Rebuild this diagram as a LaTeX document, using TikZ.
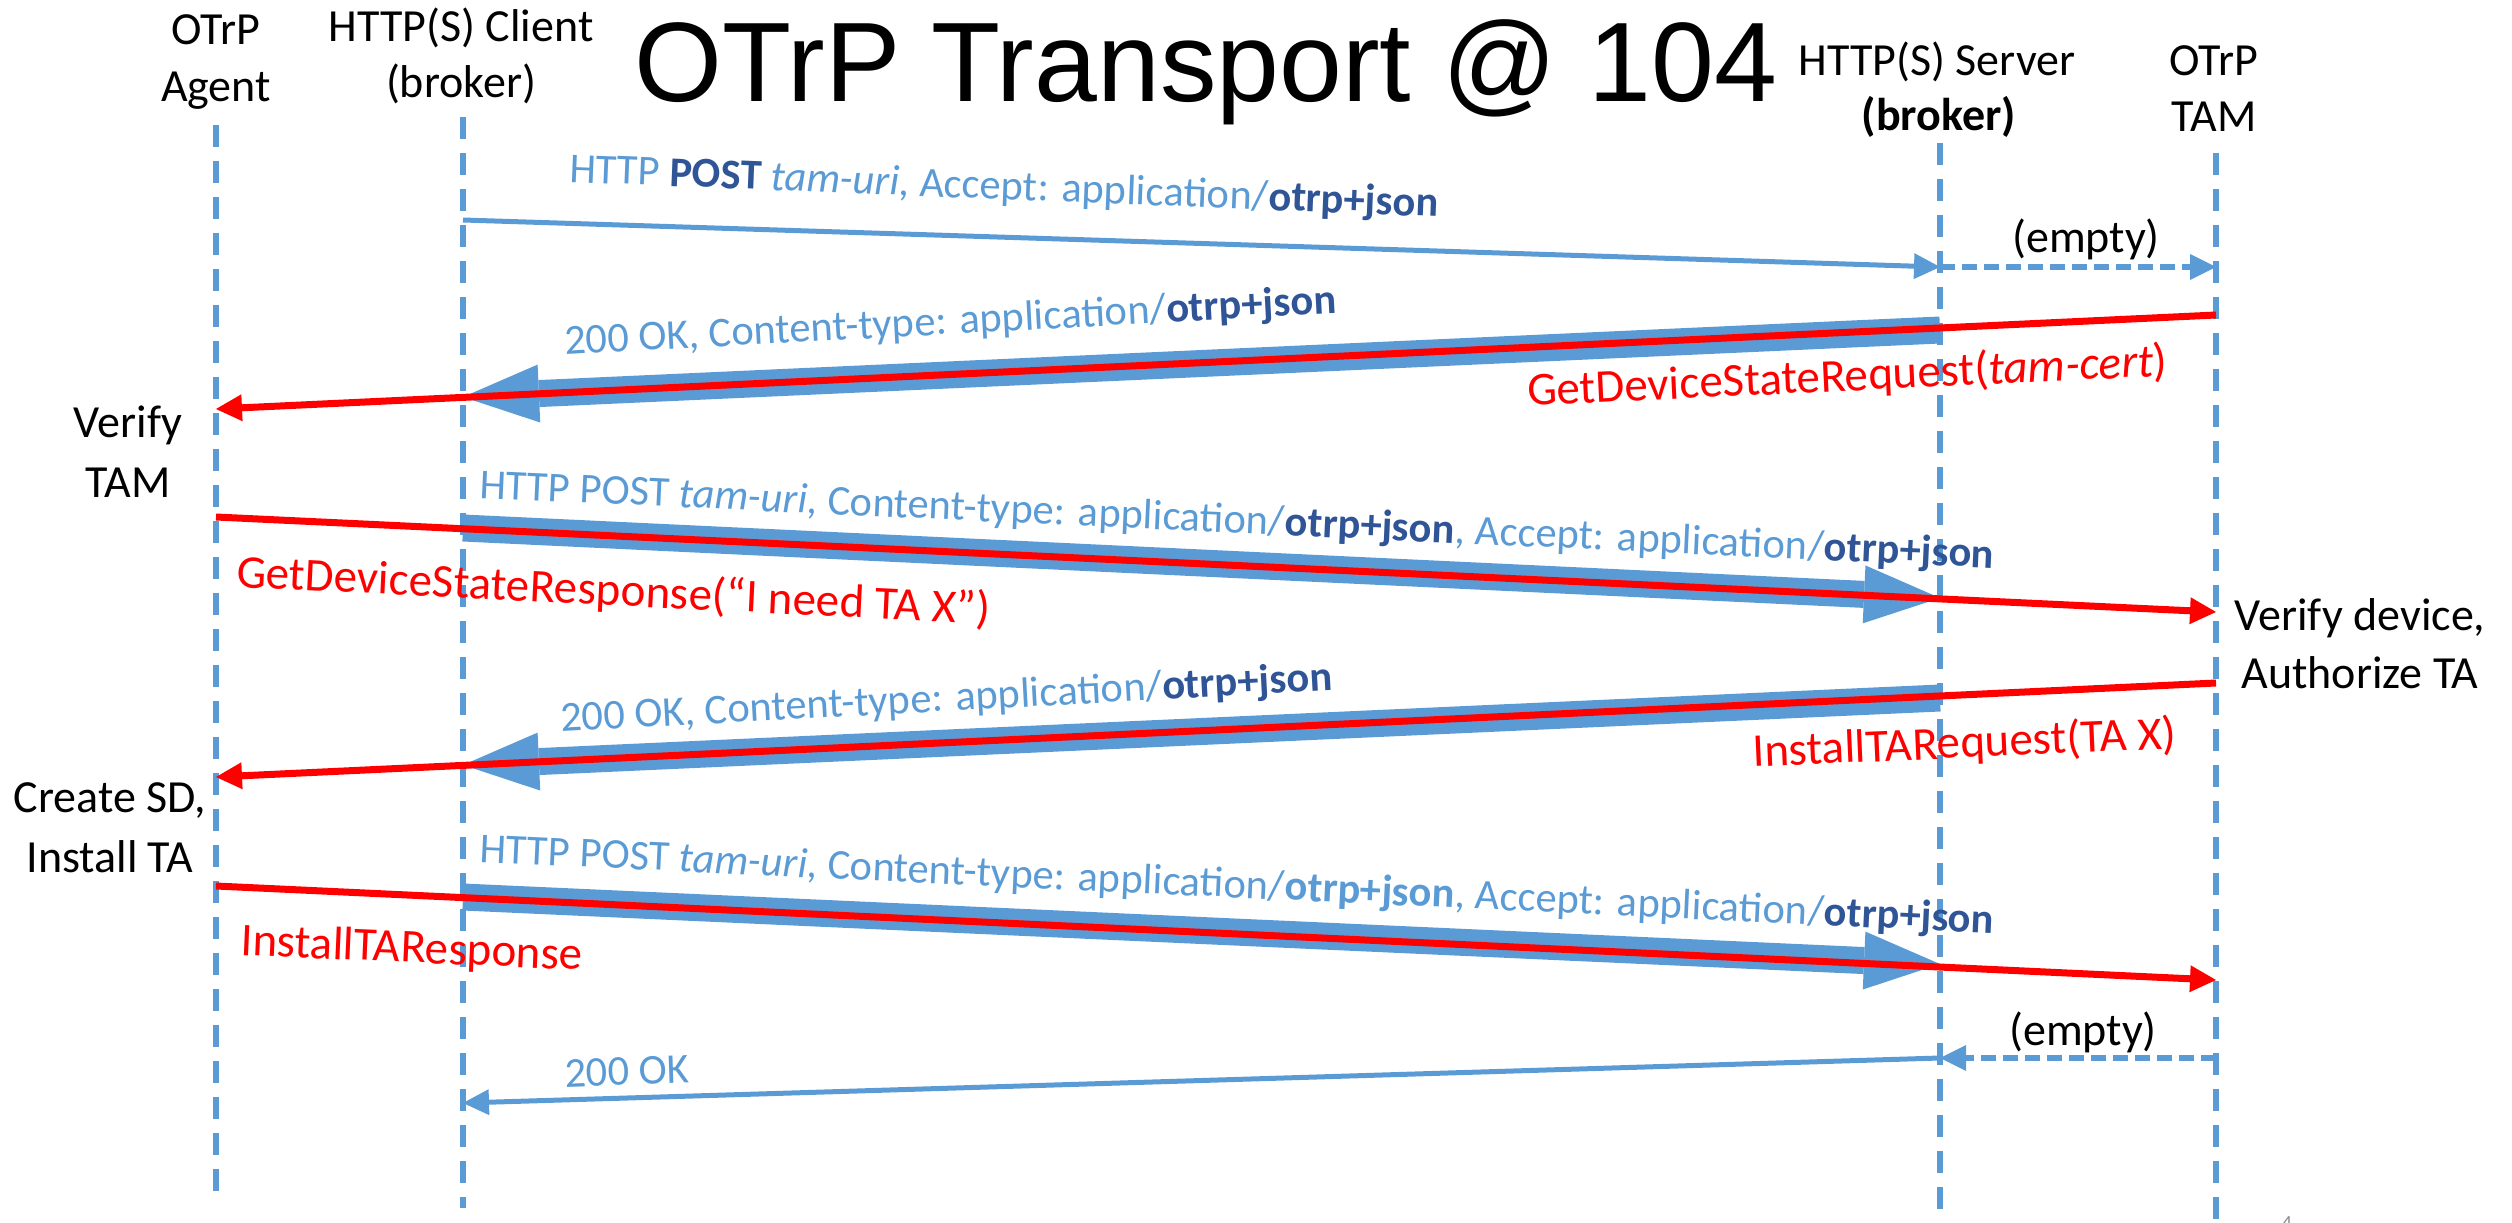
\documentclass[tikz,border=0pt]{standalone}
\usepackage{fontspec}
\setmainfont{Carlito}
\newfontfamily\titlefont{Liberation Sans}
\usetikzlibrary{arrows.meta}
\definecolor{lb}{HTML}{5B9BD5}
\definecolor{db}{HTML}{2F5597}
\definecolor{rd}{HTML}{FF0000}
\definecolor{pgnum}{HTML}{8C8C8C}
\tikzset{
  lifeline/.style={draw=lb, line width=6pt, dash pattern=on 22pt off 14pt},
  thinmsg/.style={draw=lb, line width=5pt, -{Triangle[length=26pt,width=26pt,line width=0pt]}},
  emptymsg/.style={draw=lb, line width=6pt, dash pattern=on 15pt off 7pt, -{Triangle[length=26pt,width=26pt,line width=0pt]}},
  fatmsg/.style={draw=lb, line width=27pt, -{Triangle[length=76pt,width=58pt,line width=0pt]}},
  otrpmsg/.style={draw=rd, line width=7pt, -{Triangle[length=26pt,width=27pt,line width=0pt]}},
  hdr/.style={font=\fontsize{46}{56}\selectfont, inner sep=0pt, anchor=base},
  note/.style={font=\fontsize{46}{56}\selectfont, inner sep=0pt, anchor=base},
  bluelbl/.style={text=lb, font=\fontsize{42.5}{50}\selectfont, inner sep=0pt, anchor=base west},
  redlbl/.style={text=rd, font=\fontsize{47}{56}\selectfont, inner sep=0pt, anchor=base west},
}
\begin{document}
\begin{tikzpicture}[x=1pt,y=-1pt]
\useasboundingbox (0,0) rectangle (2512,1223);

% title and headers
\node[anchor=base, inner sep=0pt, font=\titlefont\fontsize{113}{130}\selectfont] (title) at (1206,102) {OTrP Transport @ 104};
\node[hdr] (agent1) at (216,45) {OTrP};
\node[hdr] (agent2) at (216,102) {Agent};
\node[hdr] (client1) at (461,42) {HTTP(S) Client};
\node[hdr] (client2) at (461,98) {(broker)};
\node[hdr] (server1) at (1937,75) {HTTP(S) Server};
\node[hdr] (server2) at (1939,130) {\textbf{(broker)}};
\node[hdr] (tam1) at (2214,75) {OTrP};
\node[hdr] (tam2) at (2214,131) {TAM};

% lifelines
\coordinate (Atop) at (216,125); \coordinate (Abot) at (216,1198);
\coordinate (Ctop) at (463,117); \coordinate (Cbot) at (463,1208);
\coordinate (Stop) at (1940,143); \coordinate (Sbot) at (1940,1223);
\coordinate (Ttop) at (2216,153); \coordinate (Tbot) at (2216,1223);
\draw[lifeline] (Atop) -- (Abot);
\draw[lifeline] (Ctop) -- (Cbot);
\draw[lifeline] (Stop) -- (Sbot);
\draw[lifeline] (Ttop) -- (Tbot);

% message end points
\coordinate (c1) at (463,220);  \coordinate (s1) at (1940,267); \coordinate (t1) at (2216,267);
\coordinate (s2) at (1940,330); \coordinate (c2) at (463,397);
\coordinate (t2) at (2216,315); \coordinate (a2) at (216,409);
\coordinate (c3) at (463,528);  \coordinate (s3) at (1940,598);
\coordinate (a3) at (216,517);  \coordinate (t3) at (2216,612);
\coordinate (s4) at (1940,698); \coordinate (c4) at (463,765);
\coordinate (t4) at (2216,683); \coordinate (a4) at (216,777);
\coordinate (c5) at (463,897);  \coordinate (s5) at (1940,964);
\coordinate (a5) at (216,886);  \coordinate (t5) at (2216,980);
\coordinate (t6) at (2216,1058); \coordinate (s6) at (1940,1058); \coordinate (c6) at (463,1103);

% HTTP transport messages
\draw[thinmsg] (c1) -- (s1);
\draw[emptymsg] (s1) -- (t1);
\draw[fatmsg] (s2) -- (c2);
\draw[fatmsg] (c3) -- (s3);
\draw[fatmsg] (s4) -- (c4);
\draw[fatmsg] (c5) -- (s5);
\draw[emptymsg] (t6) -- (s6);
\draw[thinmsg] (s6) -- (c6);

% OTrP messages
\draw[otrpmsg] (t2) -- (a2);
\draw[otrpmsg] (a3) -- (t3);
\draw[otrpmsg] (t4) -- (a4);
\draw[otrpmsg] (a5) -- (t5);

% labels
\node[bluelbl, rotate=-2.3] (l1) at (569,182) {HTTP \textbf{\color{db}POST} \textit{tam-uri}, Accept: application/\textbf{\color{db}otrp+json}};
\node[note] (e1) at (2086,252) {(empty)};
\node[bluelbl, rotate=3.1] (l2) at (565,355) {200 OK, Content-type: application/\textbf{\color{db}otrp+json}};
\node[redlbl, rotate=2.7] (r1) at (1528,406) {GetDeviceStateRequest(\textit{tam-cert})};
\node[note] (v1) at (128,437) {Verify};
\node[note] (v2) at (128,497) {TAM};
\node[bluelbl, rotate=-2.65] (l3) at (479,498) {HTTP POST \textit{tam-uri}, Content-type: application/\textbf{\color{db}otrp+json}, Accept: application/\textbf{\color{db}otrp+json}};
\node[redlbl, rotate=-2.8] (r2) at (236,587) {GetDeviceStateResponse(“I need TA X”)};
\node[note] (vd1) at (2360,630) {Verify device,};
\node[note] (vd2) at (2360,688) {Authorize TA};
\node[bluelbl, rotate=3.1] (l4) at (561,732) {200 OK, Content-type: application/\textbf{\color{db}otrp+json}};
\node[redlbl, rotate=2.5] (r3) at (1753,767) {InstallTARequest(TA X)};
\node[note] (cs1) at (110,812) {Create SD,};
\node[note] (cs2) at (110,872) {Install TA};
\node[bluelbl, rotate=-2.7] (l5) at (479,862) {HTTP POST \textit{tam-uri}, Content-type: application/\textbf{otrp+json}, Accept: application/\textbf{\color{db}otrp+json}};
\node[redlbl, rotate=-2.5] (r4) at (240,955) {InstallTAResponse};
\node[note] (e2) at (2083,1045) {(empty)};
\node[bluelbl, rotate=2] (l6) at (565,1087) {200 OK};
\node[anchor=base, inner sep=0pt, text=pgnum, font=\fontsize{20}{24}\selectfont] (pg) at (2287,1229) {4};
\end{tikzpicture}
\end{document}
